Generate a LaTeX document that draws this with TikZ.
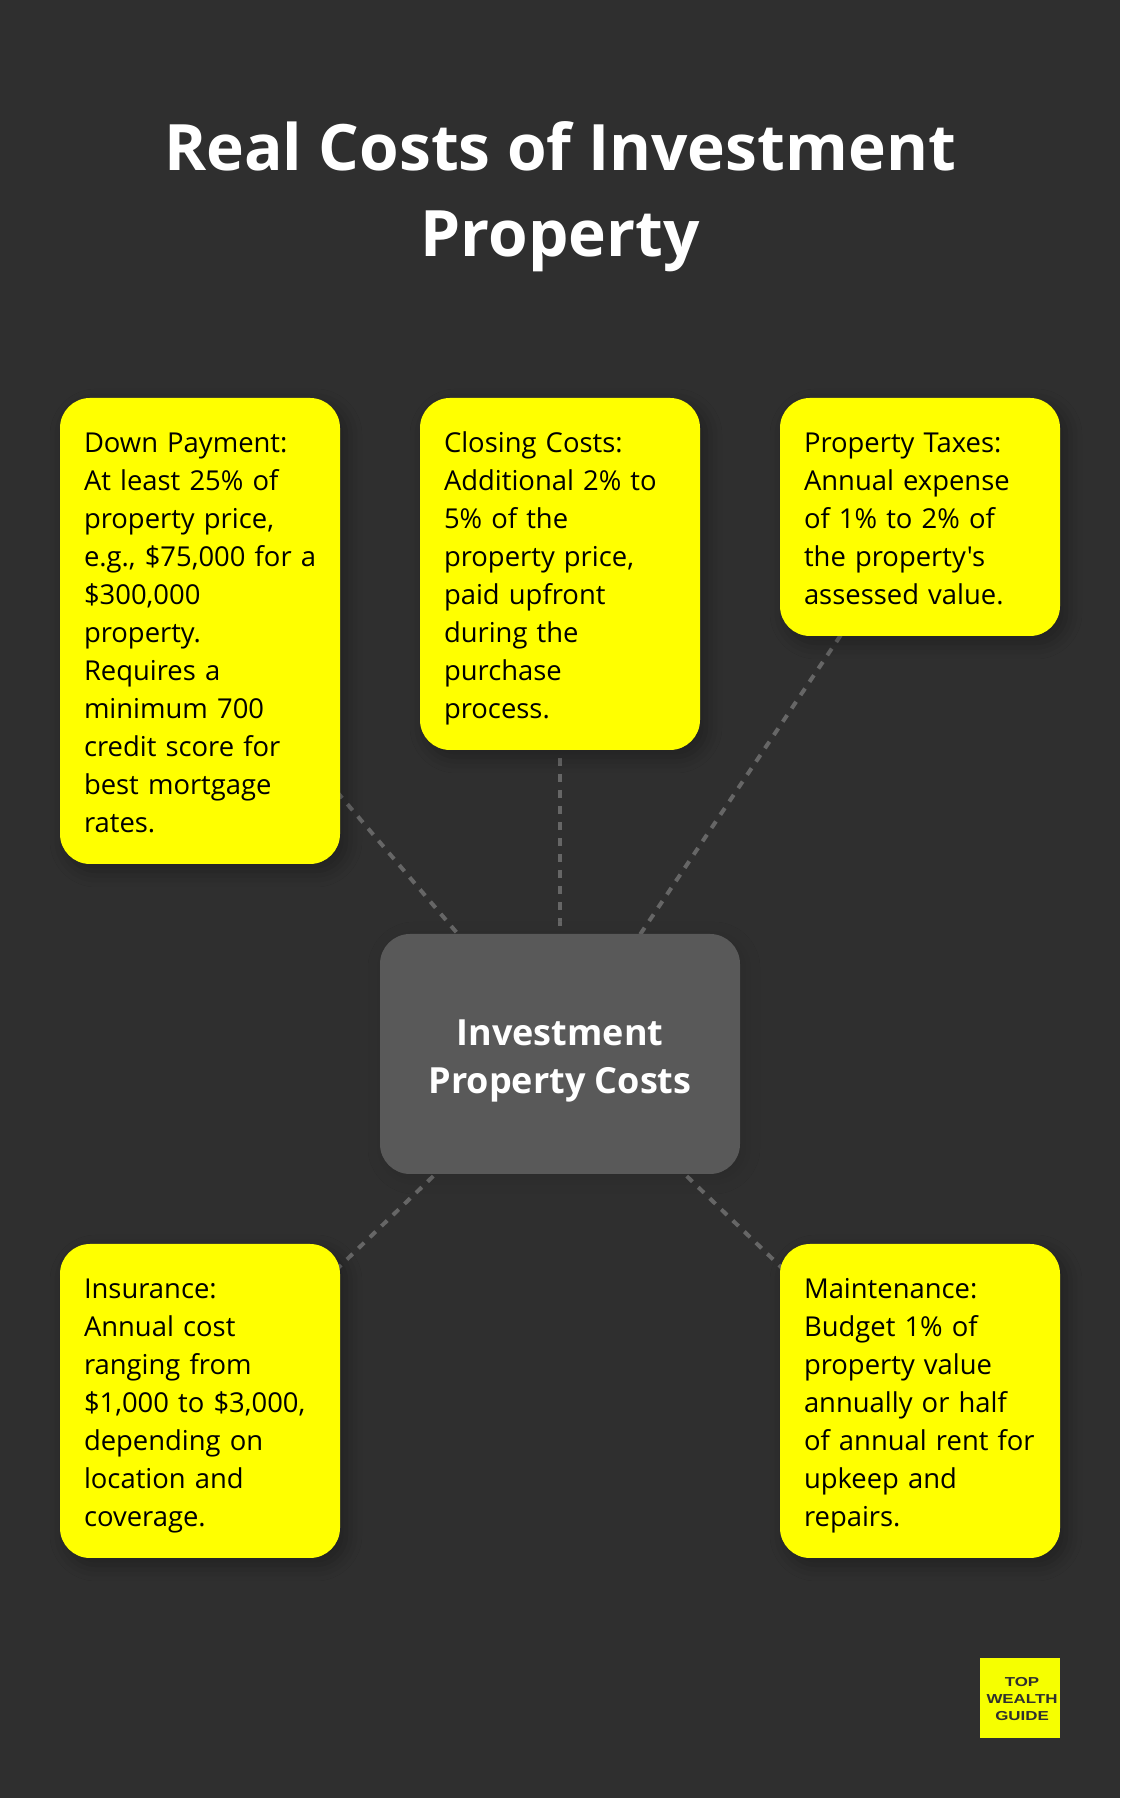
\documentclass[tikz,border=0pt]{standalone}
\usepackage{fontspec}
\usepackage{tikz}
\usetikzlibrary{positioning,backgrounds,shadows.blur}
\setmainfont{Open Sans}[Ligatures=TeXOff]
\newfontfamily\logofont[FakeStretch=1.3]{Liberation Sans}
\definecolor{pagegray}{HTML}{2F2F2F}
\definecolor{hubgray}{HTML}{595959}
\definecolor{linkgray}{HTML}{666666}
\definecolor{boxyellow}{HTML}{FFFF00}
\definecolor{logoyellow}{HTML}{F6FF00}
\tikzset{
  costbox/.style={fill=boxyellow,rounded corners=30pt,anchor=north west,minimum width=280pt,outer sep=0pt,
    text width=232pt,inner sep=24pt,align=left,font=\fontsize{27.4}{38}\selectfont,
    execute at begin node={\rule{0pt}{31pt}},execute at end node={\rule[-7pt]{0pt}{7pt}},
    blur shadow={shadow xshift=6pt,shadow yshift=-7pt,shadow blur radius=16pt,shadow opacity=30}},
  hubbox/.style={fill=hubgray,rounded corners=30pt,text=white,align=center,minimum width=360pt,
    minimum height=240pt,font=\fontsize{36}{48}\selectfont\bfseries,
    blur shadow={shadow xshift=4pt,shadow yshift=-4pt,shadow blur radius=16pt,shadow opacity=10}},
  link/.style={draw=linkgray,line width=4pt,dash pattern=on 8pt off 8pt}
}
\begin{document}
\begin{tikzpicture}[x=1pt,y=1pt]
      \useasboundingbox (0,0) rectangle (1120,1798);
      \node[font=\fontsize{64}{86}\selectfont\bfseries,text=white,align=center] (title) at (560,1601)
        {Real Costs of Investment\\Property};
      \node[hubbox] (hub) at (560,744) {\rule{0pt}{39pt}Investment\\Property Costs};
      %% Top row
      \node[costbox] (down) at (60,1400)
        {Down Payment:\\At least 25\% of\\property price,\\\mbox{e.g., \$75,000 for a}\\\$300,000\\property.\\Requires a\\minimum 700\\credit score for\\best mortgage\\rates.};
      \node[costbox,right=80pt of down.north east,anchor=north west] (closing)
        {Closing Costs:\\Additional 2\% to\\5\% of the\\property price,\\paid upfront\\during the\\purchase\\process.};
      \node[costbox,right=80pt of closing.north east,anchor=north west] (taxes)
        {Property Taxes:\\Annual expense\\of 1\% to 2\% of\\the property's\\assessed value.};
      %% Bottom row
      \node[costbox] (insurance) at (60,554)
        {Insurance:\\Annual cost\\ranging from\\\$1,000 to \$3,000,\\depending on\\location and\\coverage.};
      \node[costbox] (upkeep) at (780,554)
        {Maintenance:\\Budget 1\% of\\property value\\annually or half\\\mbox{of annual rent for}\\upkeep and\\repairs.};
      %% Logo
      \node[fill=logoyellow,minimum size=80pt,inner sep=0pt] (logo) at (1020,100) {};
      \node[text=pagegray,align=center,inner sep=0pt,xshift=2pt,yshift=-1pt,
        font=\fontsize{13}{17}\logofont\bfseries] (logotext) at (logo) {TOP\\WEALTH\\GUIDE};
      %% Dashed links
      \begin{scope}[on background layer]
        \fill[pagegray] (0,0) rectangle (1120,1798);
        \foreach \name in {down,closing,taxes,insurance,upkeep}
          \draw[link] (hub.center) -- (\name.center);
      \end{scope}
    \end{tikzpicture}
\end{document}
